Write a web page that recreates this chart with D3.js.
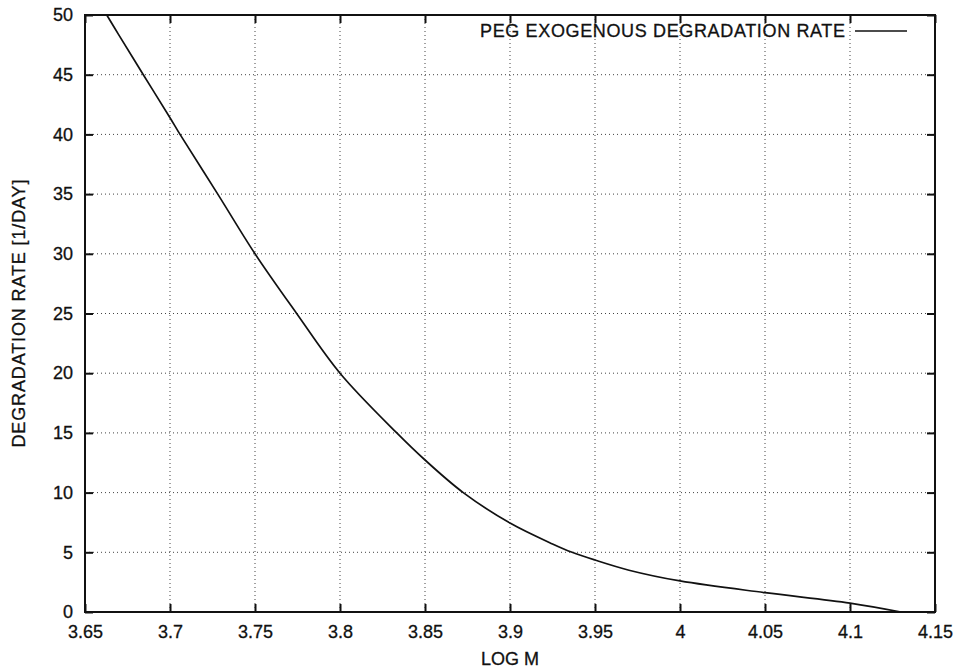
<!DOCTYPE html>
<html>
<head>
<meta charset="utf-8">
<script src="https://cdn.jsdelivr.net/npm/d3@7"></script>
<style>
  html, body { margin: 0; padding: 0; background: #fff; }
  svg { display: block; }
  text { font-family: "Liberation Sans", Arial, Helvetica, sans-serif; fill: #111; }
</style>
</head>
<body>
<svg id="chart" width="956" height="669"></svg>
<script>
// Degradation rate of exogenous PEG versus log molecular weight
const logM = [3.6628, 3.6696, 3.6843, 3.70, 3.7059, 3.7281, 3.75, 3.7745, 3.80, 3.8334,
              3.85, 3.8725, 3.90, 3.925, 3.9365, 3.95, 3.97, 4.00, 4.05, 4.10, 4.13];
const rate = [50, 48.4, 45, 41.4, 40, 35, 30, 25, 20, 15,
              12.73, 10, 7.45, 5.7, 5, 4.35, 3.5, 2.6, 1.62, 0.75, 0];

const xTicks = [3.65, 3.7, 3.75, 3.8, 3.85, 3.9, 3.95, 4, 4.05, 4.1, 4.15];
const yTicks = [0, 5, 10, 15, 20, 25, 30, 35, 40, 45, 50];

const seriesName = "PEG EXOGENOUS DEGRADATION RATE";
const xTitle = "LOG M";
const yTitle = "DEGRADATION RATE [1/DAY]";

const margin = { left: 85, right: 21, top: 15, bottom: 57 };
const W = 956, H = 669;
const FS = 18;
const svg = d3.select("#chart");

const x = d3.scaleLinear().domain([3.65, 4.15]).range([margin.left, W - margin.right]);
const y = d3.scaleLinear().domain([0, 50]).range([H - margin.bottom, margin.top]);

const x0 = x.range()[0], x1 = x.range()[1];
const y0 = y.range()[0], y1 = y.range()[1];

// dotted grid
const grid = svg.append("g").attr("stroke", "#444").attr("stroke-width", 1)
  .attr("stroke-dasharray", "1,3");
grid.selectAll("line.v").data(xTicks.slice(1, -1)).join("line").attr("class", "v")
  .attr("x1", d => x(d)).attr("x2", d => x(d)).attr("y1", y0).attr("y2", y1);
grid.selectAll("line.h").data(yTicks.slice(1, -1)).join("line").attr("class", "h")
  .attr("y1", d => y(d)).attr("y2", d => y(d)).attr("x1", x0).attr("x2", x1);

// axes with inward ticks on all four sides
const fmt = d => String(d);
svg.append("g").attr("transform", `translate(0,${y0})`)
  .call(d3.axisBottom(x).tickValues(xTicks).tickSize(-8).tickPadding(13).tickFormat(fmt));
svg.append("g").attr("transform", `translate(0,${y1})`)
  .call(d3.axisTop(x).tickValues(xTicks).tickSize(-8).tickFormat(""));
svg.append("g").attr("transform", `translate(${x0},0)`)
  .call(d3.axisLeft(y).tickValues(yTicks).tickSize(-8).tickPadding(12).tickFormat(fmt));
svg.append("g").attr("transform", `translate(${x1},0)`)
  .call(d3.axisRight(y).tickValues(yTicks).tickSize(-8).tickFormat(""));

svg.selectAll(".domain").remove();
svg.selectAll(".tick line").attr("stroke", "#111").attr("stroke-width", 2);
svg.selectAll(".tick text").attr("font-size", FS).attr("fill", "#111")
  .attr("stroke", "#111").attr("stroke-width", 0.3)
  .attr("font-family", "'Liberation Sans', Arial, sans-serif");

// frame
svg.append("rect").attr("x", x0).attr("y", y1).attr("width", x1 - x0).attr("height", y0 - y1)
  .attr("fill", "none").attr("stroke", "#111").attr("stroke-width", 2);

// curve
const pts = logM.map((m, i) => [m, rate[i]]);
svg.append("path").datum(pts)
  .attr("fill", "none").attr("stroke", "#111").attr("stroke-width", 1.7)
  .attr("stroke-linejoin", "round")
  .attr("d", d3.line().x(d => x(d[0])).y(d => y(d[1])).curve(d3.curveCatmullRom.alpha(0.5)));

// legend
svg.append("text").attr("x", 845).attr("y", 37).attr("text-anchor", "end")
  .attr("font-size", FS).attr("stroke", "#111").attr("stroke-width", 0.3)
  .attr("textLength", 365).attr("lengthAdjust", "spacing").text(seriesName);
svg.append("line").attr("x1", 855).attr("x2", 907).attr("y1", 31).attr("y2", 31)
  .attr("stroke", "#111").attr("stroke-width", 1.7);

// axis titles
svg.append("text").attr("x", (x0 + x1) / 2).attr("y", 665).attr("text-anchor", "middle")
  .attr("font-size", FS).attr("stroke", "#111").attr("stroke-width", 0.3).text(xTitle);
svg.append("text").attr("transform", `translate(25,${(y0 + y1) / 2}) rotate(-90)`)
  .attr("text-anchor", "middle").attr("font-size", FS)
  .attr("stroke", "#111").attr("stroke-width", 0.3)
  .attr("textLength", 268).attr("lengthAdjust", "spacing").text(yTitle);
</script>
</body>
</html>
